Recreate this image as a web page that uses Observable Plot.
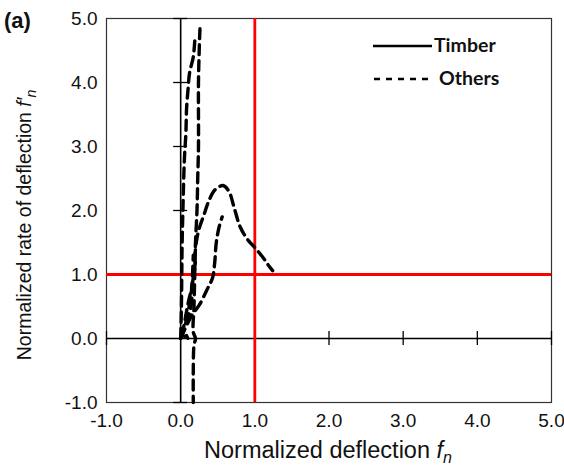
<!DOCTYPE html>
<html><head><meta charset="utf-8">
<script src="https://cdn.jsdelivr.net/npm/d3@7"></script>
<script src="https://cdn.jsdelivr.net/npm/@observablehq/plot@0.6"></script>
<style>
body{margin:0;background:#fff;}
#chart{position:relative;width:564px;height:468px;}
</style></head>
<body><div id="chart"></div>
<script>
// Tick values for both axes
const xTicks = [-1, 0, 1, 2, 3, 4, 5];
const yTicks = [-1, 0, 1, 2, 3, 4, 5];
// Reference (threshold) lines
const refX = [1];
const refY = [1];

// Timber (solid) – stays at fn ≈ 0
const timberX = [0.0, 0.02, 0.05, 0.08, 0.1];
const timberY = [0.0, 0.06, 0.03, 0.05, 0.0];

// Others (dashed) – several specimens
const othersA_x = [0.26, 0.25, 0.24, 0.24, 0.23, 0.22, 0.20, 0.19, 0.18, 0.17, 0.20, 0.18, 0.17, 0.17];
const othersA_y = [4.84, 4.50, 4.00, 3.00, 2.50, 2.00, 1.50, 1.00, 0.50, 0.10, 0.00, -0.10, -0.50, -1.00];

const othersB_x = [0.19, 0.17, 0.12, 0.10, 0.08, 0.07, 0.05, 0.03, 0.02, 0.01, 0.00];
const othersB_y = [4.65, 4.40, 4.15, 3.90, 3.60, 3.20, 2.80, 2.00, 1.50, 0.50, 0.00];

const othersC_x = [0.00, 0.08, 0.14, 0.18, 0.21, 0.25, 0.31, 0.38, 0.46, 0.57, 0.65, 0.72, 0.80, 0.90, 1.00, 1.10, 1.18, 1.24];
const othersC_y = [0.00, 0.30, 0.70, 1.10, 1.50, 1.72, 1.92, 2.15, 2.32, 2.39, 2.30, 2.05, 1.75, 1.55, 1.42, 1.28, 1.15, 1.06];

const othersD_x = [0.00, 0.10, 0.16, 0.25, 0.35, 0.43, 0.46, 0.48, 0.52, 0.56];
const othersD_y = [0.00, 0.25, 0.38, 0.52, 0.75, 0.95, 1.20, 1.50, 1.75, 1.90];

const othersE_x = [0.00, 0.08, 0.14, 0.16, 0.17];
const othersE_y = [0.00, 0.25, 0.50, 1.00, 1.30];

const othersF_x = [0.02, 0.06, 0.10, 0.14, 0.17, 0.20];
const othersF_y = [0.05, 0.30, 0.55, 0.75, 0.95, 1.20];

const legendLabels = ["Timber", "Others"];

const toRows = (xs, ys, id) => xs.map((x, i) => ({x, y: ys[i], id}));
const others = [
  ...toRows(othersA_x, othersA_y, "A"),
  ...toRows(othersB_x, othersB_y, "B"),
  ...toRows(othersC_x, othersC_y, "C"),
  ...toRows(othersD_x, othersD_y, "D"),
  ...toRows(othersE_x, othersE_y, "E"),
  ...toRows(othersF_x, othersF_y, "F")
];
const timber = toRows(timberX, timberY, "T");

const W = 564, H = 468, mL = 106, mR = 13, mT = 18, mB = 66;
const pxX = 7 * 6 / (W - mL - mR); // 7px in x data units
const pxY = 7 * 6 / (H - mT - mB); // 7px in y data units

const font = "'Liberation Sans', Arial, sans-serif";

const plot = Plot.plot({
  width: W, height: H,
  marginLeft: mL, marginRight: mR, marginTop: mT, marginBottom: mB,
  style: {fontFamily: font, fontSize: "19px", color: "#111", background: "white", overflow: "visible"},
  x: {domain: [-1, 5], ticks: xTicks, tickFormat: d => d.toFixed(1), tickSize: 0, tickPadding: 11, label: null},
  y: {domain: [-1, 5], ticks: yTicks, tickFormat: d => d.toFixed(1), tickSize: 0, tickPadding: 9, label: null},
  marks: [
    Plot.frame({stroke: "#333", strokeWidth: 1.2}),
    Plot.ruleX([0], {stroke: "#000", strokeWidth: 1.6}),
    Plot.ruleY([0], {stroke: "#000", strokeWidth: 1.6}),
    Plot.ruleX(xTicks.filter(d => d !== 0), {x: d => d, y1: -pxY, y2: pxY, stroke: "#000", strokeWidth: 1.3}),
    Plot.ruleY(yTicks.filter(d => d !== 0), {y: d => d, x1: -pxX, x2: pxX, stroke: "#000", strokeWidth: 1.3}),
    Plot.ruleX(refX, {stroke: "#ff0000", strokeWidth: 2.8}),
    Plot.ruleY(refY, {stroke: "#ff0000", strokeWidth: 2.8}),
    Plot.line(timber, {x: "x", y: "y", z: "id", stroke: "#000", strokeWidth: 3}),
    Plot.line(others, {x: "x", y: "y", z: "id", stroke: "#000", strokeWidth: 3.4, strokeDasharray: "10,6", curve: "catmull-rom"})
  ]
});

const svg = d3.select(plot);
// axis titles
const xt = svg.append("text").attr("x", 328).attr("y", 458).attr("text-anchor", "middle")
  .attr("font-family", font).attr("font-size", 23.5).attr("fill", "#111");
xt.append("tspan").text("Normalized deflection ");
xt.append("tspan").attr("font-style", "italic").text("f");
xt.append("tspan").attr("font-style", "italic").attr("font-size", 16).attr("dy", 5).text("n");

const yt = svg.append("text").attr("transform", "translate(31,225) rotate(-90)").attr("text-anchor", "middle")
  .attr("font-family", font).attr("font-size", 19.5).attr("fill", "#111");
yt.append("tspan").text("Normalized rate of deflection ");
yt.append("tspan").attr("font-style", "italic").text("f\u2032");
yt.append("tspan").attr("font-style", "italic").attr("font-size", 14).attr("dy", 5).text("n");

svg.append("text").attr("x", 4).attr("y", 28).attr("text-anchor", "start").attr("font-family", font).attr("font-weight", "bold")
  .attr("font-size", 22).attr("fill", "#111").text("(a)");

// legend
const lg = svg.append("g").attr("font-family", "Lato, 'Open Sans', sans-serif").attr("font-weight", "bold")
  .attr("font-size", 19.5).attr("fill", "#111").attr("text-anchor", "start");
lg.append("line").attr("x1", 373).attr("x2", 432).attr("y1", 46).attr("y2", 46).attr("stroke", "#000").attr("stroke-width", 2.4);
lg.append("text").attr("x", 434).attr("y", 52).text(legendLabels[0]);
lg.append("line").attr("x1", 374).attr("x2", 430).attr("y1", 79).attr("y2", 79).attr("stroke", "#000").attr("stroke-width", 2.4).attr("stroke-dasharray", "6,6");
lg.append("text").attr("x", 439).attr("y", 85).text(legendLabels[1]);

document.getElementById("chart").appendChild(plot);
</script>
</body></html>
